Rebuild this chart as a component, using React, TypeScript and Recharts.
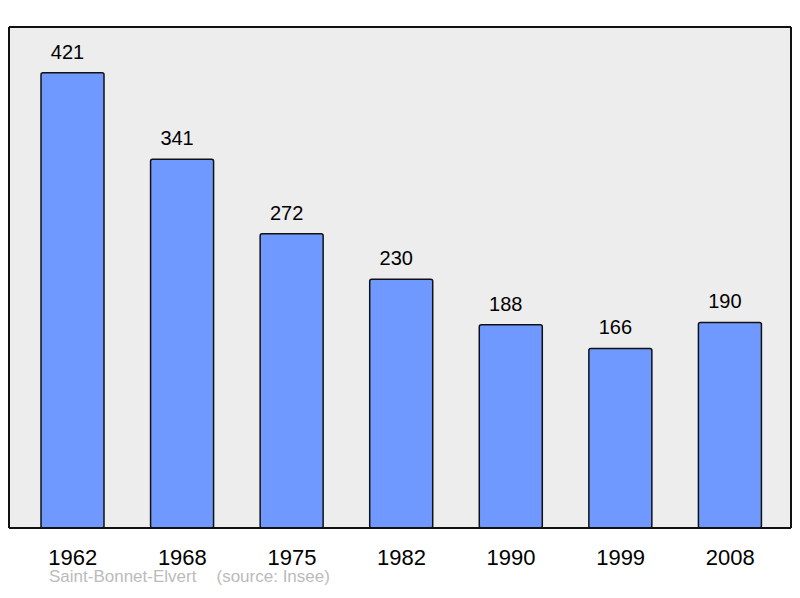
import React from 'react';
import { BarChart, Bar, XAxis, YAxis, CartesianGrid, LabelList } from 'recharts';

const years = ['1962', '1968', '1975', '1982', '1990', '1999', '2008'];
const population = [421, 341, 272, 230, 188, 166, 190];
const yMax = 463.2;
const communeName = 'Saint-Bonnet-Elvert';
const sourceText = '(source: Insee)';

const data = years.map((year, i) => ({ year, population: population[i] }));

const FONT = '"Liberation Sans", Arial, sans-serif';

const YearTick = (props: any) => {
  const { x, y, payload } = props;
  return (
    <text x={x} y={y + 36.5} textAnchor="middle" fontSize={22} fontFamily={FONT} fill="#000">
      {payload.value}
    </text>
  );
};

const ValueLabel = (props: any) => {
  const { x, y, width, value } = props;
  return (
    <text x={x + width / 2 - 5} y={y - 14} textAnchor="middle" fontSize={20} fontFamily={FONT} fill="#000">
      {value}
    </text>
  );
};

const LINE = { stroke: '#111', strokeWidth: 2 };

export default function App() {
  return (
    <div style={{ position: 'absolute', left: 0, top: 0, width: 800, height: 598, background: '#fff' }}>
      <BarChart
        width={800}
        height={598}
        data={data}
        margin={{ top: 26, right: 8, bottom: 0, left: 8 }}
      >
        <CartesianGrid horizontal={false} vertical={false} fill="#ededed" />
        <XAxis
          dataKey="year"
          height={70}
          padding={{ left: 9, right: 6 }}
          tickLine={false}
          tickSize={0}
          tickMargin={0}
          axisLine={LINE}
          tick={<YearTick />}
          interval={0}
        />
        <XAxis
          xAxisId="top"
          orientation="top"
          dataKey="year"
          height={1}
          tick={false}
          tickLine={false}
          axisLine={LINE}
        />
        <YAxis
          domain={[0, yMax]}
          width={1}
          tick={false}
          tickLine={false}
          axisLine={LINE}
        />
        <YAxis
          yAxisId="right"
          orientation="right"
          domain={[0, yMax]}
          width={1}
          tick={false}
          tickLine={false}
          axisLine={LINE}
        />
        <Bar
          dataKey="population"
          fill="#7099ff"
          stroke="#111"
          strokeWidth={1.5}
          barSize={63}
          radius={2}
          isAnimationActive={false}
        >
          <LabelList dataKey="population" content={<ValueLabel />} />
        </Bar>
      </BarChart>
      <svg
        width={800}
        height={598}
        style={{ position: 'absolute', left: 0, top: 0, pointerEvents: 'none' }}
      >
        <text x={49} y={581.5} fontSize={17} fontFamily={FONT} fill="#bbbbbb">
          {communeName}
        </text>
        <text x={216.5} y={581.5} fontSize={17} fontFamily={FONT} fill="#bbbbbb">
          {sourceText}
        </text>
      </svg>
    </div>
  );
}
